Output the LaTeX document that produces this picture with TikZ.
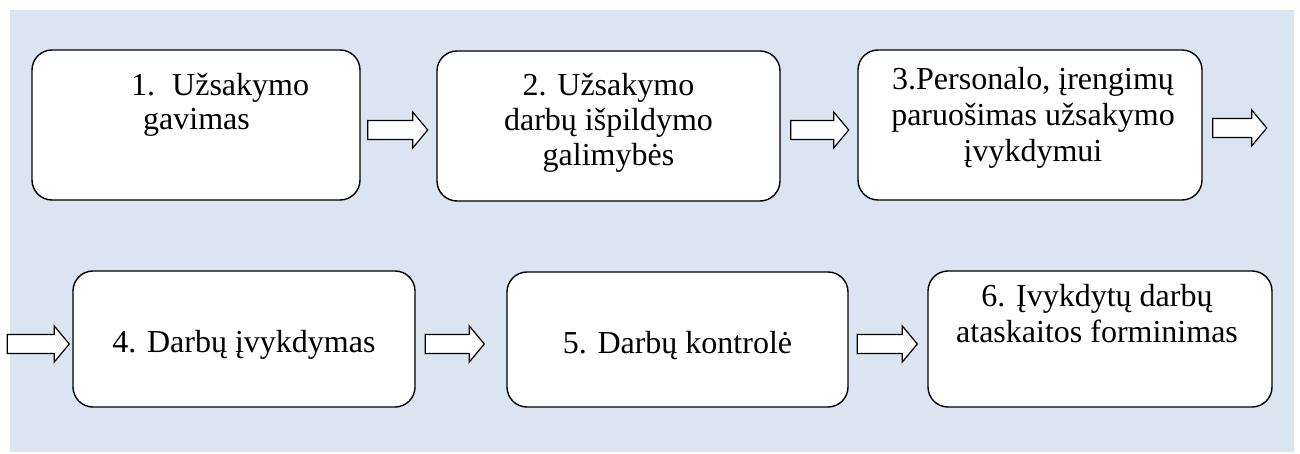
\documentclass[tikz,border=0pt]{standalone}
\usepackage{fontspec}
\setmainfont{Liberation Serif}
\usetikzlibrary{calc}
\definecolor{panelblue}{RGB}{219,229,241}
\begin{document}
\begin{tikzpicture}[x=1pt,y=-1pt,
  stepbox/.style={draw=black, fill=white, line width=1.4pt, rounded corners=20pt,
                  inner sep=0pt, minimum width=#1},
  lbl/.style={inner sep=0pt, anchor=base, font=\fontsize{32pt}{36pt}\selectfont},
  arrowline/.style={draw=black, fill=white, line width=1.2pt, line join=miter},
  pics/blockarrow/.style={code={
    \draw[arrowline] (0,-9.5) -- (#1-15,-9.5) -- (#1-15,-18) -- (#1,0)
        -- (#1-15,18) -- (#1-15,9.5) -- (0,9.5) -- cycle;}}]
\useasboundingbox (0,0) rectangle (1300,454);
\fill[panelblue] (10,10) rectangle (1294,452);

% first row of steps
\node[stepbox=328pt, minimum height=150pt] (b1) at (196,125) {};
\node[stepbox=343pt, minimum height=150pt] (b2) at (608.5,126) {};
\node[stepbox=344pt, minimum height=150pt] (b3) at (1030,125) {};
% second row of steps
\node[stepbox=342pt, minimum height=136pt] (b4) at (244,339) {};
\node[stepbox=341pt, minimum height=135pt] (b5) at (677.5,339.5) {};
\node[stepbox=344pt, minimum height=136pt] (b6) at (1100,339) {};

% step labels
\node[lbl, anchor=base west] (t1a) at (131,96) {1.\hspace{17pt}Užsakymo};
\node[lbl, anchor=base west] (t1b) at (143,130) {gavimas};

\node[lbl] (t2a) at (608.5,96) {2. Užsakymo};
\node[lbl] (t2b) at (608.5,131) {darbų išpildymo};
\node[lbl] (t2c) at (608.5,166) {galimybės};

\node[lbl] (t3a) at (1033,90) {3.Personalo, įrengimų};
\node[lbl] (t3b) at (1033,126) {paruošimas užsakymo};
\node[lbl] (t3c) at (1033,162) {įvykdymui};

\node[lbl] (t4) at (244,352) {4. Darbų įvykdymas};
\node[lbl] (t5) at (677.5,353) {5. Darbų kontrolė};

\node[lbl] (t6a) at (1097,306) {6. Įvykdytų darbų};
\node[lbl] (t6b) at (1097,342) {ataskaitos forminimas};

% block arrows between the steps
\pic at ($(b1.east)+(7,5)$) {blockarrow=60};
\pic at ($(b2.east)+(10,4)$) {blockarrow=58};
\pic at ($(b3.east)+(10,3)$) {blockarrow=54};
\pic at ($(b4.west)+(-65,5)$) {blockarrow=62};
\pic at ($(b5.west)+(-81,4.5)$) {blockarrow=59};
\pic at ($(b6.west)+(-70,5)$) {blockarrow=60};
\end{tikzpicture}
\end{document}
